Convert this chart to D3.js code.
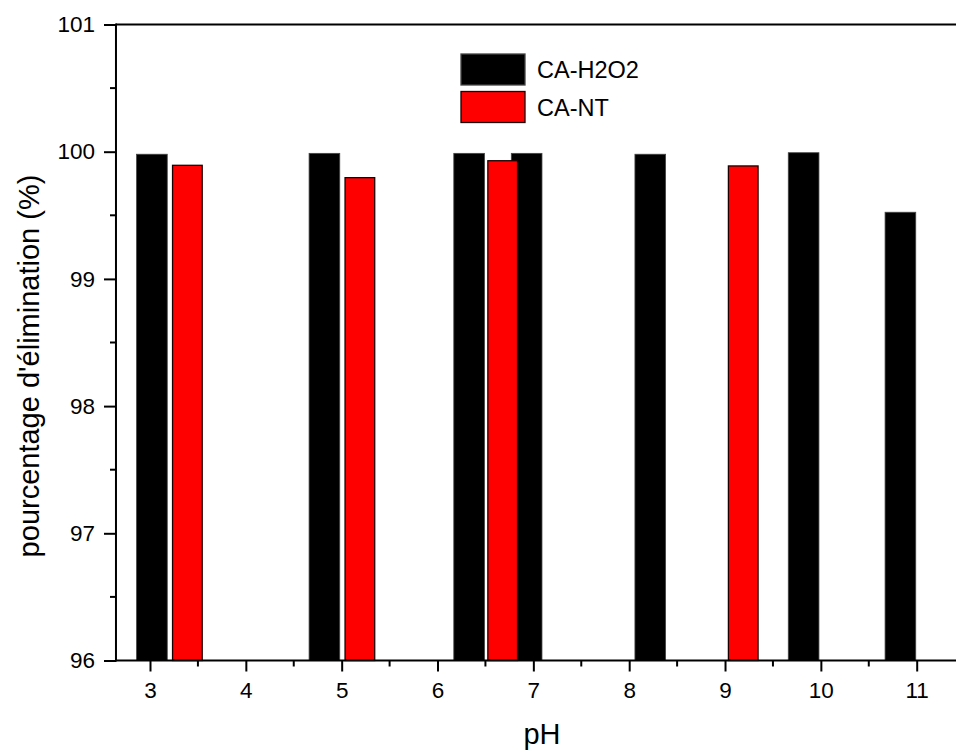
<!DOCTYPE html>
<html>
<head>
<meta charset="utf-8">
<script src="https://cdn.jsdelivr.net/npm/d3@7"></script>
<style>
  html, body { margin: 0; padding: 0; background: #fff; }
  svg { display: block; }
  text { font-family: Arial, "Liberation Sans", sans-serif; fill: #000; }
</style>
</head>
<body>
<svg id="chart" width="956" height="753"></svg>
<script>
// ---- data ----
const seriesNames = ["CA-H2O2", "CA-NT"];
const h2o2PH = [3.02, 4.82, 6.33, 6.93, 8.22, 9.82, 10.83];
const h2o2Values = [99.98, 99.987, 99.987, 99.987, 99.98, 99.992, 99.524];
const ntPH = [3.39, 5.19, 6.68, 9.19];
const ntValues = [99.893, 99.796, 99.929, 99.888];
const xTicks = [3, 4, 5, 6, 7, 8, 9, 10, 11];
const yTicks = [96, 97, 98, 99, 100, 101];
const xTitle = "pH";
const yTitle = "pourcentage d'élimination (%)";

// ---- layout ----
const svg = d3.select("#chart");
const xMin = 2.645, xMax = 11.5;
const x = d3.scaleLinear().domain([3, 11]).range([150, 916.7]);
const y = d3.scaleLinear().domain([96, 101]).range([660.5, 24.5]);
const barW = 0.32;
const pLeft = x(xMin), pRight = x(xMax), pTop = y(101), pBottom = y(96);

// bars
const g = svg.append("g");
g.selectAll("rect.h2o2").data(h2o2PH.map((p, i) => ({p, v: h2o2Values[i]})))
  .enter().append("rect").attr("class", "h2o2")
  .attr("x", d => x(d.p - barW / 2))
  .attr("width", d => x(d.p + barW / 2) - x(d.p - barW / 2))
  .attr("y", d => y(d.v))
  .attr("height", d => y(96) - y(d.v))
  .attr("fill", "#000").attr("stroke", "#444").attr("stroke-width", 0.8);
g.selectAll("rect.nt").data(ntPH.map((p, i) => ({p, v: ntValues[i]})))
  .enter().append("rect").attr("class", "nt")
  .attr("x", d => x(d.p - barW / 2) + 0.5)
  .attr("width", d => x(d.p + barW / 2) - x(d.p - barW / 2) - 1)
  .attr("y", d => y(d.v))
  .attr("height", d => y(96) - y(d.v))
  .attr("fill", "#ff0000").attr("stroke", "#1a0000").attr("stroke-width", 1.3);

// frame (top and left/bottom)
const axG = svg.append("g").attr("stroke", "#000").attr("stroke-width", 2).attr("fill", "none");
axG.append("line").attr("x1", pLeft).attr("x2", pRight).attr("y1", pTop).attr("y2", pTop);
axG.append("line").attr("x1", pLeft).attr("x2", pRight).attr("y1", pBottom).attr("y2", pBottom);
axG.append("line").attr("x1", pLeft).attr("x2", pLeft).attr("y1", pTop - 1).attr("y2", pBottom + 1);

// y axis
const yAxis = d3.axisLeft(y).tickValues(yTicks).tickSize(12).tickPadding(9).tickFormat(d3.format("d"));
const yG = svg.append("g").attr("transform", `translate(${pLeft},0)`).call(yAxis);
yG.select(".domain").remove();
yG.selectAll(".tick line").attr("stroke-width", 2);
yG.selectAll(".tick text").style("font-size", "22.5px").attr("font-family", "Arial, 'Liberation Sans', sans-serif");
const yMinor = d3.range(96.5, 101, 1);
svg.append("g").selectAll("line").data(yMinor).enter().append("line")
  .attr("x1", pLeft - 6).attr("x2", pLeft).attr("y1", d => y(d)).attr("y2", d => y(d))
  .attr("stroke", "#000").attr("stroke-width", 2);

// x axis
const xAxis = d3.axisBottom(x).tickValues(xTicks).tickSize(11).tickPadding(11).tickFormat(d3.format("d"));
const xG = svg.append("g").attr("transform", `translate(0,${pBottom})`).call(xAxis);
xG.select(".domain").remove();
xG.selectAll(".tick line").attr("stroke-width", 2);
xG.selectAll(".tick text").style("font-size", "22.5px").attr("font-family", "Arial, 'Liberation Sans', sans-serif");
const xMinor = d3.range(3.5, 11.5, 1);
svg.append("g").selectAll("line").data(xMinor).enter().append("line")
  .attr("x1", d => x(d)).attr("x2", d => x(d)).attr("y1", pBottom).attr("y2", pBottom + 6)
  .attr("stroke", "#000").attr("stroke-width", 2);

// titles
svg.append("text").attr("x", 542).attr("y", 744).attr("text-anchor", "middle")
  .style("font-size", "29px").text(xTitle);
svg.append("text").attr("transform", "translate(39,366) rotate(-90)").attr("text-anchor", "middle")
  .style("font-size", "29px").text(yTitle);

// legend
const legend = svg.append("g");
const legColors = ["#000", "#ff0000"];
const legStroke = ["#444", "#1a0000"];
seriesNames.forEach((name, i) => {
  legend.append("rect").attr("x", 461).attr("y", 54 + i * 37.5).attr("width", 64).attr("height", 31)
    .attr("fill", legColors[i]).attr("stroke", legStroke[i]).attr("stroke-width", 1.3);
  legend.append("text").attr("x", 537).attr("y", 78 + i * 38).style("font-size", "23.5px").text(name);
});
</script>
</body>
</html>
